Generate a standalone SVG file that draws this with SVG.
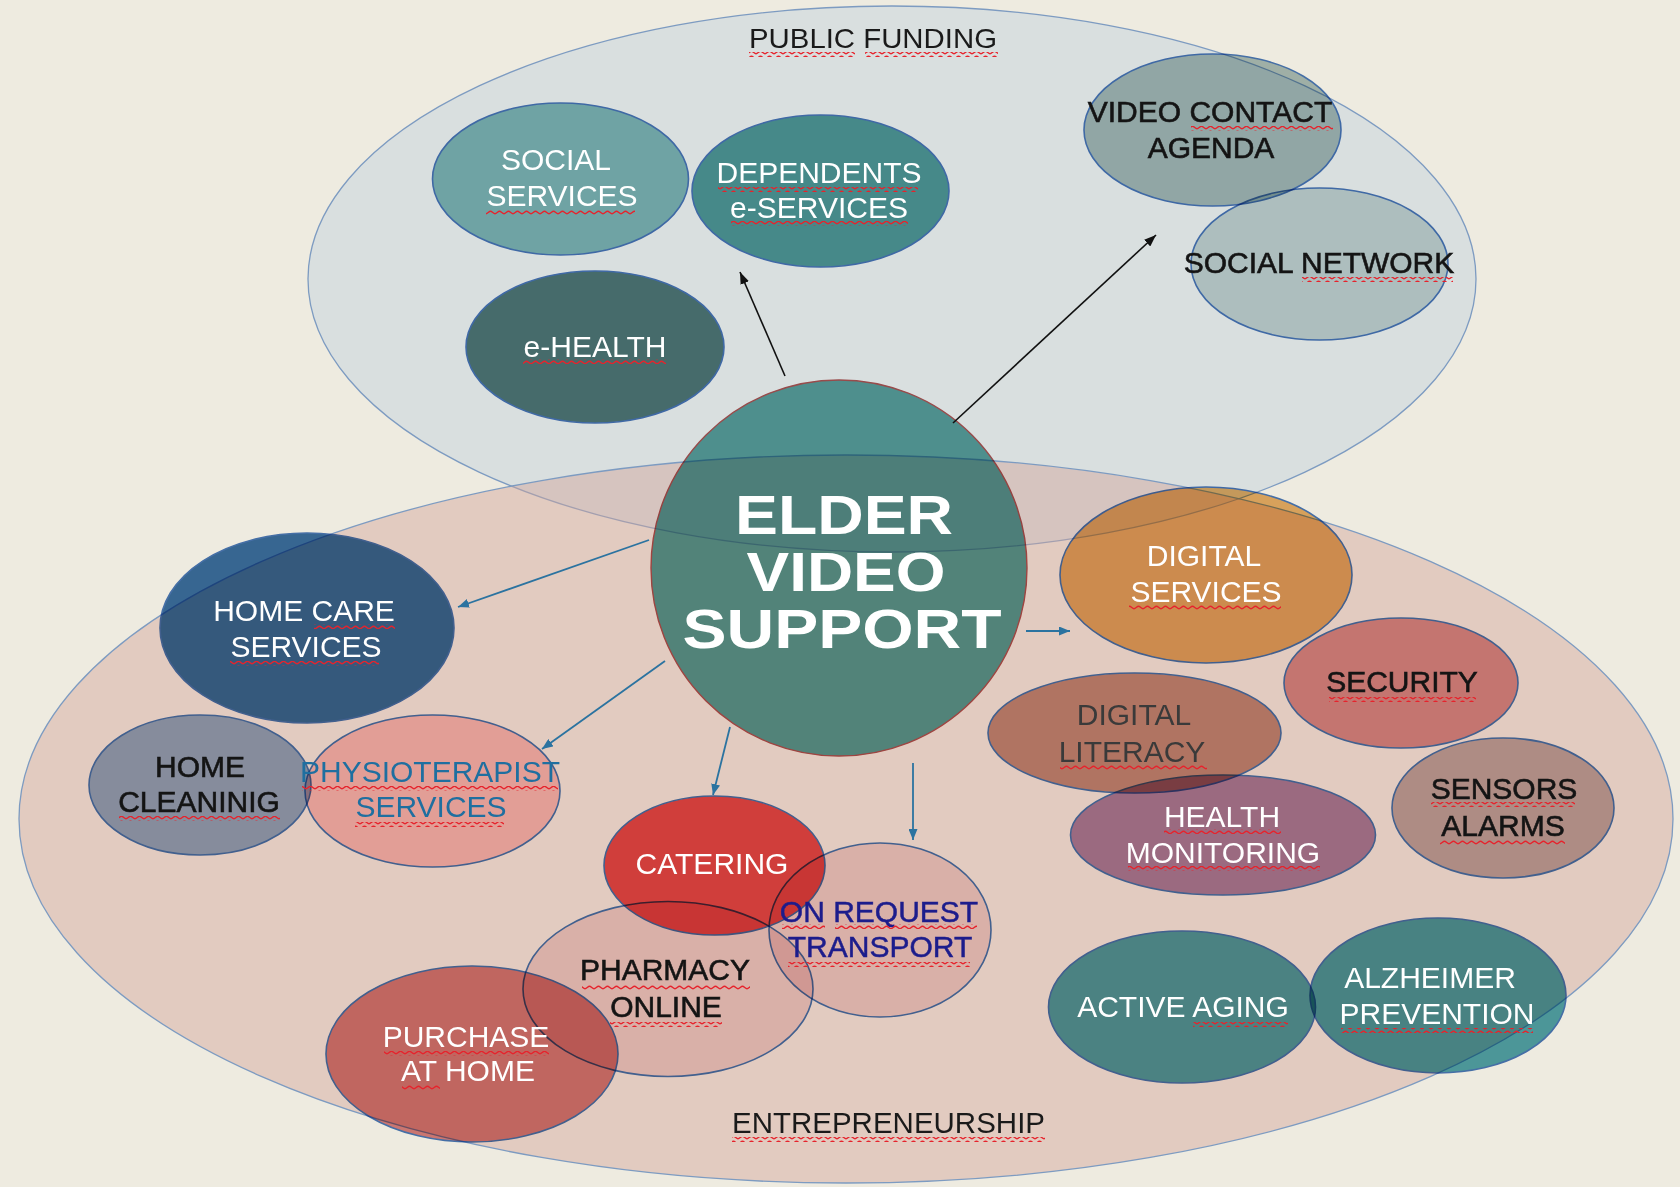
<svg xmlns="http://www.w3.org/2000/svg" width="1680" height="1187" viewBox="0 0 1680 1187">
<style>
text{font-family:"Liberation Sans",Arial,sans-serif;font-size:30px;text-anchor:middle}
.w{fill:#ffffff}
.d{fill:#141414;stroke:#141414;stroke-width:0.6}
.g{fill:#3a3a3a}
.title{fill:#1a1a1a;text-anchor:start}
.node{stroke:#4a78bd;stroke-width:1.6;mix-blend-mode:multiply}
.sq{fill:url(#wave)}
.ca{stroke:#111;stroke-width:1.6;fill:none;marker-end:url(#ab)}
.cb{stroke:#2b73a0;stroke-width:1.8;fill:none;marker-end:url(#abl)}
</style>
<defs>
<pattern id="wave" width="9" height="5" patternUnits="userSpaceOnUse">
<path d="M0,3.8 C1.5,3.8 3,1.2 4.5,1.2 C6,1.2 7.5,3.8 9,3.8" fill="none" stroke="#e6232c" stroke-width="1.4"/>
</pattern>
<marker id="ab" markerUnits="userSpaceOnUse" markerWidth="12" markerHeight="9" refX="12" refY="4.5" orient="auto">
<path d="M0,0 L12,4.5 L0,9 z" fill="#111"/>
</marker>
<marker id="abl" markerUnits="userSpaceOnUse" markerWidth="11" markerHeight="9" refX="11" refY="4.5" orient="auto">
<path d="M0,0 L11,4.5 L0,9 z" fill="#2b73a0"/>
</marker>
</defs>
<rect x="0" y="0" width="1680" height="1187" fill="#eeebe0"/>

<g id="public-funding">
<ellipse cx="892" cy="279" rx="584" ry="273" fill="#d9dfdf" stroke="#7d9bc1" stroke-width="1.3"/>
<text class="title" x="749" y="48" textLength="248" lengthAdjust="spacingAndGlyphs" style="font-size:28.5px">PUBLIC FUNDING</text>
<rect class="sq" x="749" y="52" width="106" height="5"/>
<rect class="sq" x="865" y="52" width="133" height="5"/>
</g>

<g id="entrepreneurship">
<ellipse cx="846" cy="819" rx="827" ry="364" fill="#d3a499" fill-opacity="0.45" stroke="#7d9bc1" stroke-width="1.3"/>
<text class="title" x="732" y="1133" textLength="313" lengthAdjust="spacingAndGlyphs" style="font-size:29px">ENTREPRENEURSHIP</text>
<rect class="sq" x="732" y="1137" width="313" height="5"/>
</g>

<g id="social-services">
<ellipse class="node" cx="560.5" cy="179" rx="128" ry="76" fill="#82babc"/>
<text class="w" x="556" y="170">SOCIAL</text>
<text class="w" x="562" y="206">SERVICES</text>
<rect class="sq" x="486" y="210" width="149" height="5"/>
</g>

<g id="dependents-e-services">
<ellipse class="node" cx="820.5" cy="191" rx="128.5" ry="76" fill="#529d9d"/>
<text class="w" x="819" y="183">DEPENDENTS</text>
<text class="w" x="819" y="218">e-SERVICES</text>
<rect class="sq" x="718" y="187" width="200" height="5"/>
<rect class="sq" x="731" y="221" width="177" height="5"/>
</g>

<g id="e-health">
<ellipse class="node" cx="595" cy="347" rx="129" ry="76" fill="#527a7a"/>
<text class="w" x="595" y="357">e-HEALTH</text>
<rect class="sq" x="523" y="359" width="143" height="5"/>
</g>

<g id="video-contact-agenda">
<ellipse class="node" cx="1212.5" cy="130" rx="128.5" ry="76" fill="#aabebd"/>
<text class="d" x="1210" y="122">VIDEO CONTACT</text>
<text class="d" x="1211" y="158">AGENDA</text>
<rect class="sq" x="1191" y="126" width="142" height="5"/>
</g>

<g id="social-network">
<ellipse class="node" cx="1319.5" cy="264" rx="128.5" ry="76" fill="#cbdada"/>
<text class="d" x="1319" y="273">SOCIAL NETWORK</text>
<rect class="sq" x="1302" y="277" width="151" height="5"/>
</g>

<g id="home-care-services">
<ellipse class="node" cx="307" cy="628" rx="147" ry="95" fill="#3b6fa5"/>
<text class="w" x="304" y="621">HOME CARE</text>
<text class="w" x="306" y="657">SERVICES</text>
<rect class="sq" x="314" y="624" width="81" height="5"/>
<rect class="sq" x="230" y="661" width="149" height="5"/>
</g>

<g id="home-cleaning">
<ellipse class="node" cx="200" cy="785" rx="111" ry="70" fill="#97b0cf"/>
<text class="d" x="200" y="777">HOME</text>
<text class="d" x="199" y="812">CLEANINIG</text>
<rect class="sq" x="119" y="816" width="161" height="5"/>
</g>

<g id="physioterapist-services">
<ellipse class="node" cx="432.5" cy="791" rx="127.5" ry="76" fill="#ffc6c7"/>
<text x="430" y="782" style="fill:#1f6fa0">PHYSIOTERAPIST</text>
<text x="431" y="817" style="fill:#1f6fa0">SERVICES</text>
<rect class="sq" x="302" y="786" width="256" height="5"/>
<rect class="sq" x="355" y="822" width="149" height="5"/>
</g>

<g id="pharmacy-online">
<ellipse class="node" cx="668" cy="989" rx="145" ry="87.5" fill="#f5dddf"/>
<text class="d" x="665" y="980">PHARMACY</text>
<text class="d" x="666" y="1017">ONLINE</text>
<rect class="sq" x="582" y="985" width="168" height="5"/>
<rect class="sq" x="610" y="1022" width="112" height="5"/>
</g>

<g id="catering">
<ellipse class="node" cx="714.5" cy="865.5" rx="110.5" ry="69.5" fill="#eb4d4e"/>
<text class="w" x="712" y="874">CATERING</text>
</g>

<g id="on-request-transport">
<ellipse class="node" cx="880" cy="930" rx="111" ry="87" fill="#f5dddf"/>
<text x="879" y="922" style="fill:#1c1c8c;stroke:#1c1c8c;stroke-width:0.5">ON REQUEST</text>
<text x="880" y="957" style="fill:#1c1c8c;stroke:#1c1c8c;stroke-width:0.5">TRANSPORT</text>
<rect class="sq" x="782" y="924" width="43" height="5"/>
<rect class="sq" x="835" y="924" width="142" height="5"/>
<rect class="sq" x="788" y="962" width="182" height="5"/>
</g>

<g id="purchase-at-home">
<ellipse class="node" cx="472" cy="1054" rx="146" ry="88" fill="#d98080"/>
<text class="w" x="466" y="1047">PURCHASE</text>
<text class="w" x="468" y="1081">AT HOME</text>
<rect class="sq" x="384" y="1051" width="165" height="5"/>
<rect class="sq" x="402" y="1085" width="38" height="5"/>
</g>

<g id="digital-services">
<ellipse class="node" cx="1206" cy="575" rx="146" ry="88" fill="#e7af68"/>
<text class="w" x="1204" y="566">DIGITAL</text>
<text class="w" x="1206" y="602">SERVICES</text>
<rect class="sq" x="1129" y="605" width="152" height="5"/>
</g>

<g id="security">
<ellipse class="node" cx="1401" cy="683" rx="117" ry="65" fill="#dd9395"/>
<text class="d" x="1402" y="692">SECURITY</text>
<rect class="sq" x="1329" y="697" width="147" height="5"/>
</g>

<g id="digital-literacy">
<ellipse class="node" cx="1134.5" cy="733" rx="146.5" ry="60" fill="#c79282"/>
<text class="g" x="1134" y="725">DIGITAL</text>
<text class="g" x="1132" y="762">LITERACY</text>
<rect class="sq" x="1060" y="765" width="147" height="5"/>
</g>

<g id="health-monitoring">
<ellipse class="node" cx="1223" cy="835" rx="152.5" ry="60" fill="#af85aa"/>
<text class="w" x="1222" y="827">HEALTH</text>
<text class="w" x="1223" y="863">MONITORING</text>
<rect class="sq" x="1164" y="829" width="117" height="5"/>
<rect class="sq" x="1128" y="866" width="192" height="5"/>
</g>

<g id="sensors-alarms">
<ellipse class="node" cx="1503" cy="808" rx="111" ry="70" fill="#c4b0af"/>
<text class="d" x="1504" y="799">SENSORS</text>
<text class="d" x="1503" y="836">ALARMS</text>
<rect class="sq" x="1431" y="802" width="144" height="5"/>
<rect class="sq" x="1440" y="840" width="125" height="5"/>
</g>

<g id="active-aging">
<ellipse class="node" cx="1182" cy="1007" rx="133.5" ry="76" fill="#54a3ad"/>
<text class="w" x="1183" y="1017">ACTIVE AGING</text>
<rect class="sq" x="1193" y="1022" width="95" height="5"/>
</g>

<g id="alzheimer-prevention">
<ellipse class="node" cx="1438" cy="995.5" rx="128" ry="77.5" fill="#51a3ad"/>
<text class="w" x="1430" y="988">ALZHEIMER</text>
<text class="w" x="1437" y="1024">PREVENTION</text>
<rect class="sq" x="1341" y="1028" width="192" height="5"/>
</g>

<g id="elder-video-support">
<circle cx="839" cy="568" r="188" fill="#5ca4a1" stroke="#b35555" stroke-width="1.4" style="mix-blend-mode:multiply"/>
<text class="w" x="844" y="534" textLength="218" lengthAdjust="spacingAndGlyphs" style="font-size:56px;font-weight:bold">ELDER</text>
<text class="w" x="846" y="591" textLength="199" lengthAdjust="spacingAndGlyphs" style="font-size:56px;font-weight:bold">VIDEO</text>
<text class="w" x="842" y="648" textLength="319" lengthAdjust="spacingAndGlyphs" style="font-size:56px;font-weight:bold">SUPPORT</text>
</g>

<g id="connectors">
<line class="ca" x1="785" y1="376" x2="740" y2="272"/>
<line class="ca" x1="953" y1="423" x2="1156" y2="235"/>
<line class="cb" x1="649" y1="540" x2="458" y2="607"/>
<line class="cb" x1="665" y1="661" x2="542" y2="749"/>
<line class="cb" x1="730" y1="727" x2="713" y2="795"/>
<line class="cb" x1="913" y1="763" x2="913" y2="840"/>
<line class="cb" x1="1026" y1="631" x2="1070" y2="631"/>
</g>
</svg>
